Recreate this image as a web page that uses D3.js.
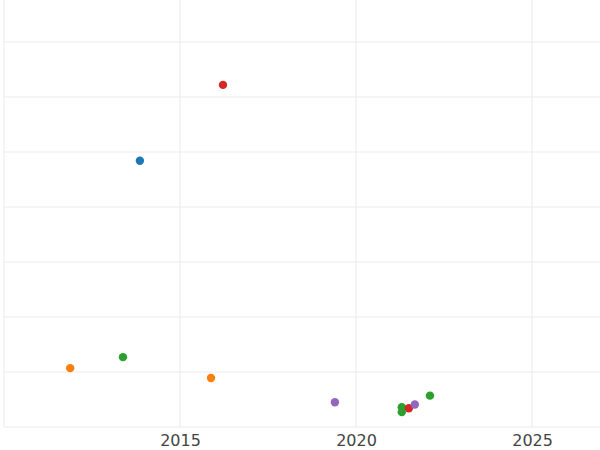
<!DOCTYPE html>
<html><head><meta charset="utf-8">
<script src="https://cdn.jsdelivr.net/npm/d3@7"></script>
<style>body{margin:0;background:#fff}</style>
</head><body><div id="chart"></div>
<script>
var years  = [2016.22, 2013.86, 2011.88, 2013.38, 2015.88, 2019.40, 2022.10, 2021.30, 2021.30, 2021.50, 2021.67];
var values = [62.2, 48.4, 10.7, 12.7, 8.9, 4.5, 5.7, 3.6, 2.7, 3.4, 4.1];
var groups = ['red', 'blue', 'orange', 'green', 'orange', 'purple', 'green', 'green', 'green', 'red', 'purple'];
var xTicks = [2015, 2020, 2025];
var yGrid = [0, 10, 20, 30, 40, 50, 60, 70];

var COLORS = {blue: '#1f77b4', orange: '#ff7f0e', green: '#2ca02c', red: '#d62728', purple: '#9467bd'};

var W = 600, H = 450;
var sx = d3.scaleLinear().domain([2010, 2026.93]).range([4, 600]);
var sy = d3.scaleLinear().domain([0, 70]).range([427, 42]);

var svg = d3.select('#chart').append('svg').attr('width', W).attr('height', H);

svg.selectAll('.hg').data(yGrid).enter().append('line')
    .attr('x1', 4).attr('x2', W)
    .attr('y1', function(d) { return sy(d); }).attr('y2', function(d) { return sy(d); })
    .attr('stroke', '#ebebeb');
svg.selectAll('.vg').data([2010].concat(xTicks)).enter().append('line')
    .attr('x1', function(d) { return sx(d); }).attr('x2', function(d) { return sx(d); })
    .attr('y1', 0).attr('y2', 427)
    .attr('stroke', '#ebebeb');

var ax = d3.axisBottom(sx).tickValues(xTicks).tickSize(0).tickFormat(d3.format('d'));
var gx = svg.append('g').attr('transform', 'translate(0,425)').call(ax);
gx.select('.domain').remove();
gx.selectAll('text').attr('font-family', 'DejaVu Sans').attr('font-size', 16)
    .attr('fill', '#444').attr('dy', '1.1em');

svg.selectAll('.pt').data(years).enter().append('circle')
    .attr('cx', function(d) { return sx(d); })
    .attr('cy', function(d, i) { return sy(values[i]); })
    .attr('r', 4.2)
    .attr('fill', function(d, i) { return COLORS[groups[i]]; });
</script></body></html>
